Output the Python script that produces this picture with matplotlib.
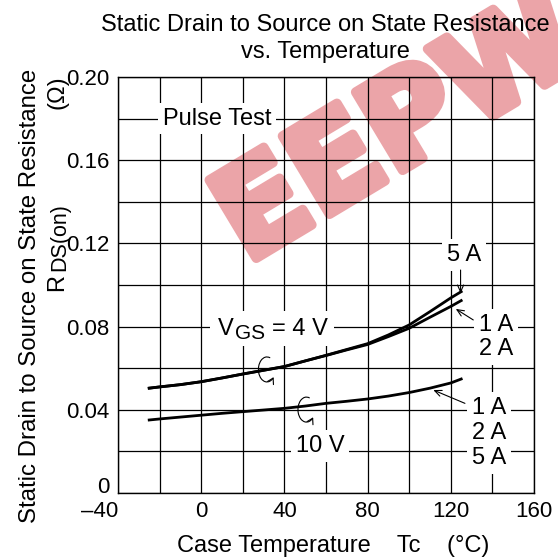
import matplotlib
matplotlib.use("Agg")
import matplotlib.pyplot as plt
import matplotlib.transforms as mtransforms
import matplotlib.patheffects as pe
from matplotlib.patches import FancyArrowPatch, Rectangle
from matplotlib.path import Path

plt.rcParams['font.family'] = ['Liberation Sans', 'DejaVu Sans']

# ---- data ----
tc = [-25, -20, -10, 0, 10, 20, 30, 40, 50, 60, 70, 80, 90, 100, 110, 120, 125]
r_4v_5a = [0.0504, 0.0510, 0.0521, 0.0535, 0.0553, 0.0572, 0.0590, 0.0608, 0.0635,
           0.0662, 0.0690, 0.0718, 0.0760, 0.0808, 0.0872, 0.0938, 0.0968]
r_4v_12a = [0.0504, 0.0510, 0.0521, 0.0535, 0.0553, 0.0572, 0.0590, 0.0608, 0.0635,
            0.0661, 0.0688, 0.0714, 0.0752, 0.0792, 0.0845, 0.0897, 0.0925]
r_10v = [0.0351, 0.0356, 0.0365, 0.0374, 0.0383, 0.0391, 0.0399, 0.0407, 0.0418,
         0.0431, 0.0441, 0.0452, 0.0466, 0.0483, 0.0504, 0.0529, 0.0548]

x_ticks = [-40, -20, 0, 20, 40, 60, 80, 100, 120, 140, 160]
x_labels = ['–40', '', '0', '', '40', '', '80', '', '120', '', '160']
y_ticks = [0, 0.02, 0.04, 0.06, 0.08, 0.10, 0.12, 0.14, 0.16, 0.18, 0.20]
y_labels = ['0', '', '0.04', '', '0.08', '', '0.12', '', '0.16', '', '0.20']

W, H = 558, 559
fig = plt.figure(figsize=(W / 100, H / 100), dpi=100)


def fx(px):
    return px / W


def fy(py):
    return 1 - py / H


ax = fig.add_axes([118 / W, (H - 493) / H, 416 / W, 416 / H])
ax.set_facecolor('none')
ax.set_xlim(-40, 160)
ax.set_ylim(0, 0.20)
ax.set_xticks(x_ticks)
ax.set_xticklabels(x_labels)
ax.set_yticks(y_ticks)
ax.set_yticklabels(y_labels)
ax.tick_params(length=0, labelsize=16, pad=6, colors='black')
ax.grid(True, color='black', linewidth=0.9)
ax.set_axisbelow(True)
for s in ax.spines.values():
    s.set_linewidth(1.0)
    s.set_color('black')

xl = ax.get_xticklabels()
xl[0].set_ha('right')
yl = ax.get_yticklabels()
yl[0].set_transform(yl[0].get_transform() + mtransforms.ScaledTranslation(0, 8 / 100, fig.dpi_scale_trans))

lw = 2.0
ax.plot(tc, r_4v_5a, color='black', lw=lw, zorder=3)
ax.plot(tc, r_4v_12a, color='black', lw=lw, zorder=3)
ax.plot(tc, r_10v, color='black', lw=lw, zorder=3)

box = dict(boxstyle='square,pad=0.2', facecolor='white', edgecolor='none')
fs = 17
ax.text(7.6, 0.180, 'Pulse Test', fontsize=fs, ha='center', va='center', bbox=box, zorder=4)
ax.text(126.3, 0.1144, '5 A', fontsize=fs, ha='center', va='center', bbox=box, zorder=4)
ax.text(141.7, 0.0810, '1 A', fontsize=fs, ha='center', va='center', bbox=box, zorder=4)
ax.text(141.7, 0.0692, '2 A', fontsize=fs, ha='center', va='center', bbox=box, zorder=4)
ax.text(138.4, 0.0411, '1 A', fontsize=fs, ha='center', va='center', bbox=box, zorder=4)
ax.text(138.4, 0.0288, '2 A', fontsize=fs, ha='center', va='center', bbox=box, zorder=4)
ax.text(138.4, 0.0168, '5 A', fontsize=fs, ha='center', va='center', bbox=box, zorder=4)
ax.text(57.1, 0.0226, '10 V', fontsize=fs, ha='center', va='center', bbox=box, zorder=4)

# V_GS = 4 V with a near-full-size subscript; one white box behind the pieces
fig.add_artist(Rectangle((fx(210), fy(346)), fx(334) - fx(210), fy(311) - fy(346),
                         transform=fig.transFigure, facecolor='white', edgecolor='none',
                         zorder=3))
fig.text(fx(218), fy(335), 'V', fontsize=fs, ha='left', va='baseline', zorder=4)
fig.text(fx(235), fy(339), 'GS', fontsize=15, ha='left', va='baseline', zorder=4)
fig.text(fx(272), fy(335), '= 4 V', fontsize=fs, ha='left', va='baseline', zorder=4)

aprops = dict(arrowstyle='->,head_length=0.5,head_width=0.22', color='black', lw=0.8,
              shrinkA=0, shrinkB=0)
ax.annotate('', xy=(124.7, 0.0960), xytext=(124.7, 0.1072), arrowprops=aprops, zorder=5)
ax.annotate('', xy=(122.4, 0.0885), xytext=(130.8, 0.0832), arrowprops=aprops, zorder=5)
ax.annotate('', xy=(111.6, 0.0495), xytext=(126.8, 0.0431), arrowprops=aprops, zorder=5)

# curly "C" arrows (drawn in pixel units around a data point)
for cx, cy in [(31.6, 0.0594), (50.6, 0.0401)]:
    arc = Path.arc(70, 322)
    p = Path(arc.vertices * [8.5, 12.5], arc.codes)
    tr = mtransforms.ScaledTranslation(cx, cy, ax.transData)
    patch = FancyArrowPatch(path=p, arrowstyle='->,head_length=4,head_width=2.4',
                            color='black', lw=0.8, transform=tr, zorder=5)
    ax.add_patch(patch)

# titles and axis labels
fig.text(fx(325), fy(25), 'Static Drain to Source on State Resistance', fontsize=fs,
         ha='center', va='center')
fig.text(fx(325), fy(52), 'vs. Temperature', fontsize=fs, ha='center', va='center')
fig.text(fx(333), fy(546), 'Case Temperature    Tc    (°C)', fontsize=fs,
         ha='center', va='center')
fig.text(fx(30), fy(296), 'Static Drain to Source on State Resistance', fontsize=17.3,
         rotation=90, ha='center', va='center')
fig.text(fx(63), fy(291), 'R', fontsize=fs, rotation=90, rotation_mode='anchor',
         ha='left', va='baseline')
fig.text(fx(65), fy(271), 'DS(on)', fontsize=15.5, rotation=90, rotation_mode='anchor',
         ha='left', va='baseline')
fig.text(fx(63), fy(109), '(Ω)', fontsize=fs, rotation=90, rotation_mode='anchor',
         ha='left', va='baseline')

# watermark (light red logo band behind the grid)
wm_col = '#EBA4A8'
fig.text(fx(418), fy(161), 'EEPW', fontsize=90, fontweight='bold', family='DejaVu Sans',
         rotation=31, rotation_mode='anchor', color=wm_col, ha='center', va='baseline',
         zorder=-1, path_effects=[pe.Stroke(linewidth=7, foreground=wm_col), pe.Normal()])

fig.savefig('out.png', dpi=100)
